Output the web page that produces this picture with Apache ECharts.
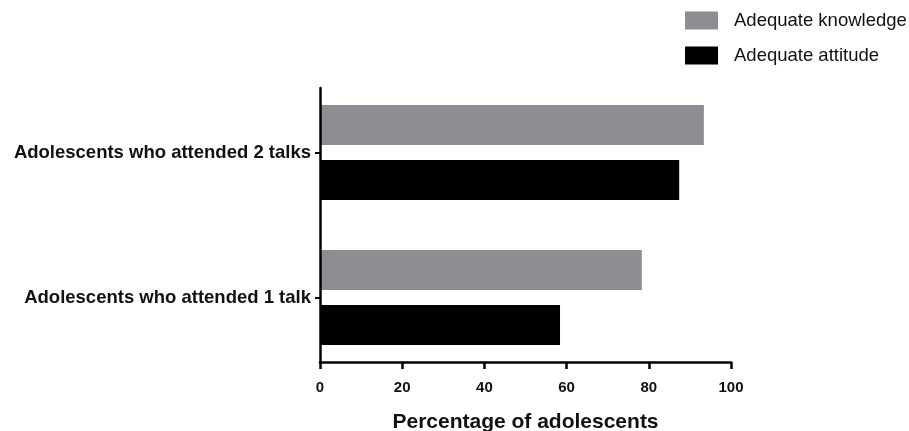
<!DOCTYPE html>
<html><head><meta charset="utf-8">
<script src="https://cdn.jsdelivr.net/npm/echarts@6/dist/echarts.min.js"></script>
<style>html,body{margin:0;padding:0;background:#fff}#c{width:909px;height:431px}</style>
</head><body><div id="c"></div>
<script>
const categories = ['Adolescents who attended 1 talk', 'Adolescents who attended 2 talks'];
const knowledge = [78.3, 93.4];
const attitude = [58.4, 87.4];
const xTicks = [0, 20, 40, 60, 80, 100];
const seriesNames = ['Adequate knowledge', 'Adequate attitude'];

const chart = echarts.init(document.getElementById('c'));
const F = 'Liberation Sans, Arial, Helvetica, sans-serif';
chart.setOption({
  backgroundColor: '#fff',
  animation: false,
  legend: {
    data: seriesNames,
    orient: 'vertical', left: 680, top: 6,
    itemWidth: 33, itemHeight: 18, itemGap: 16,
    textStyle: { fontFamily: F, fontSize: 18.5, color: '#111', padding: [0,0,0,11] },
    icon: 'rect'
  },
  grid: [
    { left: 320, right: 178, top: 80, height: 290, outerBoundsMode: 'none', containLabel: false },
    { left: 320, right: 178, top: 88, height: 274, outerBoundsMode: 'none', containLabel: false }
  ],
  xAxis: [
    { gridIndex: 0, type: 'value', min: xTicks[0], max: xTicks[xTicks.length-1], interval: 20,
      show: false },
    { gridIndex: 1, type: 'value', min: xTicks[0], max: xTicks[xTicks.length-1], interval: 20,
      z: 5,
      axisLine: { show: true, lineStyle: { color: '#000', width: 2.5 } },
      axisTick: { show: true, length: 7, lineStyle: { color: '#000', width: 2.5 } },
      axisLabel: { fontFamily: F, fontWeight: 'bold', fontSize: 15, color: '#111', margin: 18 },
      splitLine: { show: false },
      name: 'Percentage of adolescents', nameLocation: 'middle', nameGap: 50,
      nameTextStyle: { fontFamily: F, fontWeight: 'bold', fontSize: 21, color: '#111' } }
  ],
  yAxis: [
    { gridIndex: 0, type: 'category', data: categories,
      axisLine: { show: false },
      axisTick: { show: true, alignWithLabel: true, length: 5, lineStyle: { color: '#000', width: 2 } },
      axisLabel: { fontFamily: F, fontWeight: 'bold', fontSize: 18.5, color: '#111', margin: 9 } },
    { gridIndex: 1, type: 'category', data: categories, z: 5,
      axisLine: { show: true, lineStyle: { color: '#000', width: 2.5 } },
      axisTick: { show: false }, axisLabel: { show: false } }
  ],
  series: [
    { name: seriesNames[0], type: 'bar', xAxisIndex: 0, yAxisIndex: 0, data: knowledge,
      barWidth: 40, barGap: '37.5%', itemStyle: { color: '#8e8d93' } },
    { name: seriesNames[1], type: 'bar', xAxisIndex: 0, yAxisIndex: 0, data: attitude,
      barWidth: 40, barGap: '37.5%', itemStyle: { color: '#000' } }
  ]
});
</script></body></html>
